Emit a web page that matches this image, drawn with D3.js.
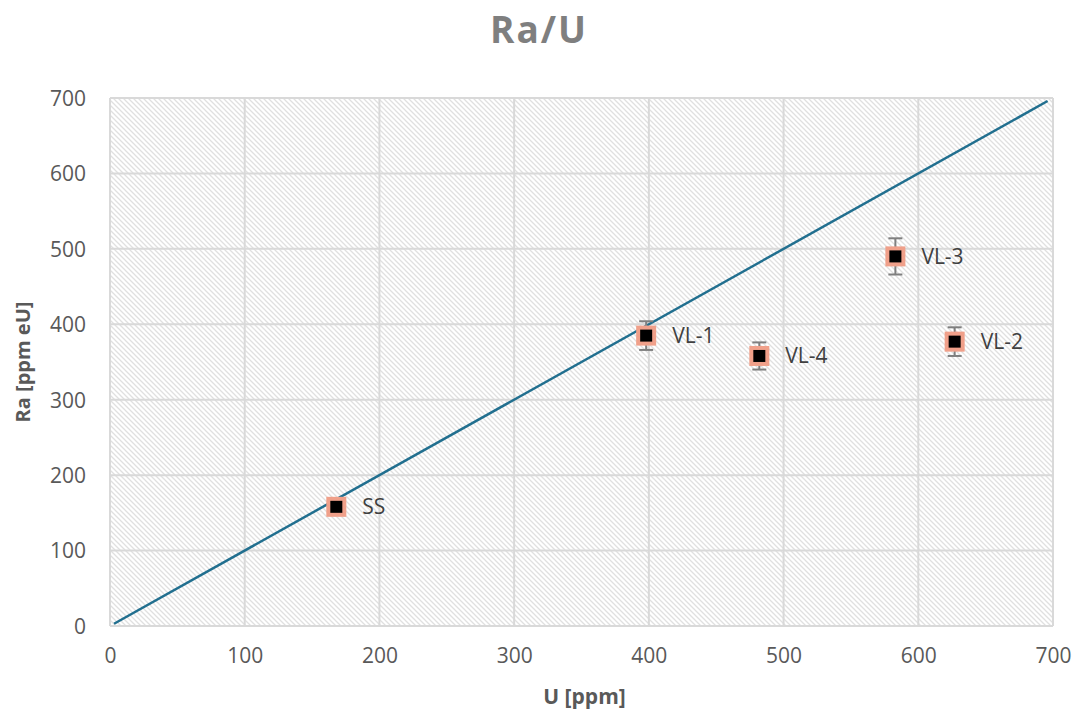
<!DOCTYPE html>
<html>
<head>
<meta charset="utf-8">
<script src="https://cdn.jsdelivr.net/npm/d3@7"></script>
<style>
  body { margin: 0; background: #fff; }
  text { font-family: "Open Sans", "Liberation Sans", sans-serif; }
</style>
</head>
<body>
<svg width="1078" height="715"></svg>
<script>
// sample data
var names = ["SS", "VL-1", "VL-4", "VL-3", "VL-2"];
var uValues = [168, 398, 482, 583, 627];
var raValues = [158, 385, 358, 490, 377];
var raErrors = [6, 19, 18, 24, 19];
var lineU = [3, 696];
var lineRa = [3, 696];
var ticks = [0, 100, 200, 300, 400, 500, 600, 700];

var svg = d3.select("svg"),
  width = +svg.attr("width"),
  height = +svg.attr("height");

var margin = {left: 110, right: 25, top: 98, bottom: 89};

var x = d3.scaleLinear().domain([0, 700]).range([margin.left, width - margin.right]);
var y = d3.scaleLinear().domain([0, 700]).range([height - margin.bottom, margin.top]);

// hatch pattern for the plot background
var defs = svg.append("defs");
var pat = defs.append("pattern")
  .attr("id", "hatch")
  .attr("patternUnits", "userSpaceOnUse")
  .attr("width", 5).attr("height", 5);
pat.append("path")
  .attr("d", "M-1.25,3.75 l2.5,2.5 M0,0 l5,5 M3.75,-1.25 l2.5,2.5")
  .attr("stroke", "#e0e0e0")
  .attr("stroke-width", 1.3);

svg.append("rect")
  .attr("x", x(0)).attr("y", y(700))
  .attr("width", x(700) - x(0)).attr("height", y(0) - y(700))
  .attr("fill", "url(#hatch)");

// grid
var grid = svg.append("g").attr("class", "grid");
grid.selectAll(".gx").data(ticks).enter().append("line")
  .attr("x1", d => x(d)).attr("x2", d => x(d))
  .attr("y1", y(0)).attr("y2", y(700))
  .attr("stroke", "#d9d9d9").attr("stroke-width", 2);
grid.selectAll(".gy").data(ticks).enter().append("line")
  .attr("y1", d => y(d)).attr("y2", d => y(d))
  .attr("x1", x(0)).attr("x2", x(700))
  .attr("stroke", "#d9d9d9").attr("stroke-width", 2);

// axes, tick labels only
var xAxis = svg.append("g")
  .attr("transform", "translate(0," + (y(0) + 14) + ")")
  .call(d3.axisBottom(x).tickValues(ticks).tickSize(0).tickPadding(8));
var yAxis = svg.append("g")
  .attr("transform", "translate(" + (x(0) - 16) + ",0)")
  .call(d3.axisLeft(y).tickValues(ticks).tickSize(0).tickPadding(8));
[xAxis, yAxis].forEach(function(a) {
  a.select(".domain").remove();
  a.selectAll("text")
    .attr("fill", "#595959")
    .style("font-size", "21px")
    .style("font-family", "\"Open Sans\", \"Liberation Sans\", sans-serif");
});
yAxis.selectAll("text").attr("dy", "0.35em");

// y = x line
var lineData = lineU.map((u, i) => ({u: u, ra: lineRa[i]}));
svg.append("path")
  .datum(lineData)
  .attr("fill", "none")
  .attr("stroke", "#216f8f")
  .attr("stroke-width", 2.5)
  .attr("d", d3.line().x(d => x(d.u)).y(d => y(d.ra)));

var points = names.map((n, i) => ({name: n, u: uValues[i], ra: raValues[i], err: raErrors[i]}));

// error bars
var eb = svg.append("g").selectAll("g").data(points).enter().append("g")
  .attr("stroke", "#7f7f7f").attr("stroke-width", 2);
eb.append("line")
  .attr("x1", d => x(d.u)).attr("x2", d => x(d.u))
  .attr("y1", d => y(d.ra - d.err)).attr("y2", d => y(d.ra + d.err));
eb.append("line")
  .attr("x1", d => x(d.u) - 7).attr("x2", d => x(d.u) + 7)
  .attr("y1", d => y(d.ra - d.err)).attr("y2", d => y(d.ra - d.err));
eb.append("line")
  .attr("x1", d => x(d.u) - 7).attr("x2", d => x(d.u) + 7)
  .attr("y1", d => y(d.ra + d.err)).attr("y2", d => y(d.ra + d.err));

// markers
svg.append("g").selectAll("rect").data(points).enter().append("rect")
  .attr("x", d => x(d.u) - 8).attr("y", d => y(d.ra) - 8)
  .attr("width", 16).attr("height", 16)
  .attr("fill", "#000")
  .attr("stroke", "#f0a08a")
  .attr("stroke-width", 4);

// point labels
svg.append("g").selectAll("text").data(points).enter().append("text")
  .attr("x", d => x(d.u) + 26)
  .attr("y", d => y(d.ra))
  .attr("dy", "0.35em")
  .attr("fill", "#404040")
  .style("font-size", "21px")
  .text(d => d.name);

// titles
svg.append("text")
  .attr("x", width / 2).attr("y", 43)
  .attr("text-anchor", "middle")
  .attr("fill", "#7f7f7f")
  .style("font-size", "37px").style("font-weight", "bold")
  .style("letter-spacing", "2px")
  .text("Ra/U");

svg.append("text")
  .attr("x", x(350) + 3).attr("y", 704)
  .attr("text-anchor", "middle")
  .attr("fill", "#595959")
  .style("font-size", "21px").style("font-weight", "bold")
  .text("U [ppm]");

svg.append("text")
  .attr("transform", "translate(30," + y(350) + ") rotate(-90)")
  .attr("text-anchor", "middle")
  .attr("fill", "#595959")
  .style("font-size", "20px").style("font-weight", "bold")
  .text("Ra [ppm eU]");
</script>
</body>
</html>
